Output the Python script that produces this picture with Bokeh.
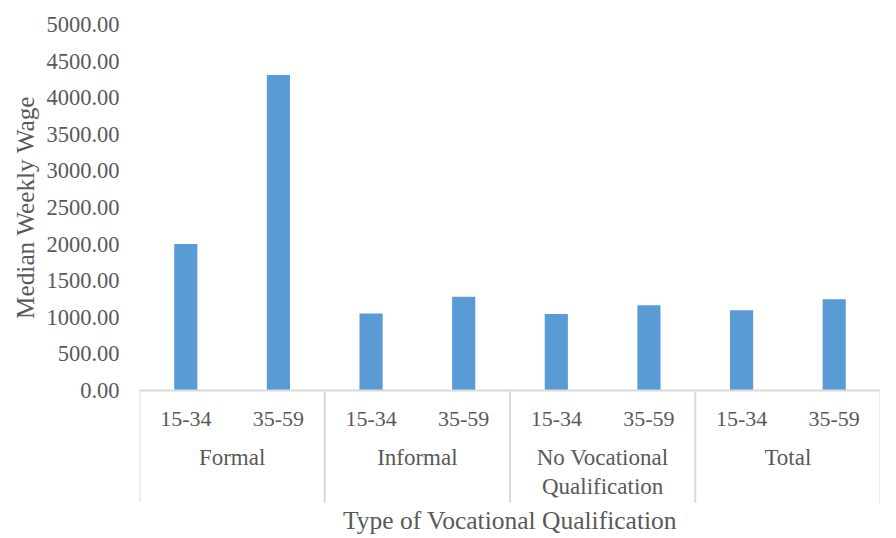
from bokeh.plotting import figure
from bokeh.models import FactorRange, NumeralTickFormatter, FixedTicker, ColumnDataSource, Title
from bokeh.embed import file_html
from bokeh.resources import INLINE

groups = ["Formal", "Informal", "No Vocational\nQualification", "Total"]
ages = ["15-34", "35-59"]
formal = [2000, 4310]
informal = [1050, 1280]
no_vocational = [1045, 1165]
total = [1095, 1245]
y_ticks = [0, 500, 1000, 1500, 2000, 2500, 3000, 3500, 4000, 4500, 5000]

values = formal + informal + no_vocational + total
factors = [(g, a) for g in groups for a in ages]
src = ColumnDataSource(data=dict(x=factors, top=values))

FONT = "Liberation Serif"
TXT = "#595959"
LINE = "#D9D9D9"

x_range = FactorRange(*factors, range_padding=0, factor_padding=0, group_padding=0, subgroup_padding=0)
p = figure(x_range=x_range, y_range=(-1995, 5000), width=880, height=536,
           output_backend="svg", toolbar_location=None,
           min_border_left=139, min_border_right=0, min_border_top=24, min_border_bottom=0)

# category box edges (group boundaries, in the category axis' own units)
seps = [i * len(ages) for i in range(len(groups) + 1)]
p.segment(x0=seps, y0=[0] * len(seps), x1=seps, y1=[-1530] * len(seps),
          line_color=LINE, line_width=2)

p.vbar(x="x", top="top", width=0.25, source=src, color="#5B9BD5", line_color=None)

p.outline_line_color = None
for g in p.grid:
    g.grid_line_color = None

p.yaxis.ticker = FixedTicker(ticks=y_ticks)
p.yaxis.formatter = NumeralTickFormatter(format="0.00")
p.yaxis.axis_line_color = None
p.yaxis.major_tick_line_color = None
p.yaxis.minor_tick_line_color = None
p.yaxis.major_label_text_font = FONT
p.yaxis.major_label_text_font_size = "22.5px"
p.yaxis.major_label_text_color = TXT
p.yaxis.major_label_standoff = 14

# value-axis title, placed along the 0..5000 span (the frame also holds the category labels)
p.add_layout(Title(text="Median Weekly Wage", align="right", offset=71,
                   vertical_align="bottom", text_font=FONT, text_font_size="25.3px",
                   text_font_style="normal", text_color=TXT), "left")

p.xaxis.fixed_location = 0
p.xaxis.axis_line_color = LINE
p.xaxis.axis_line_width = 2
p.xaxis.major_tick_line_color = None
p.xaxis.minor_tick_line_color = None
p.xaxis.major_label_text_font = FONT
p.xaxis.major_label_text_font_size = "22px"
p.xaxis.major_label_text_color = TXT
p.xaxis.major_label_standoff = 16
p.xaxis.group_text_font = FONT
p.xaxis.group_text_font_size = "23px"
p.xaxis.group_text_font_style = "normal"
p.xaxis.group_text_color = TXT
p.xaxis.group_text_line_height = 1.15
p.xaxis.separator_line_color = None
p.xaxis.axis_label = "Type of Vocational Qualification"
p.xaxis.axis_label_text_font = FONT
p.xaxis.axis_label_text_font_size = "25.5px"
p.xaxis.axis_label_text_font_style = "normal"
p.xaxis.axis_label_text_color = TXT
p.xaxis.axis_label_standoff = 4

open("out.html", "w").write(file_html(p, INLINE))
